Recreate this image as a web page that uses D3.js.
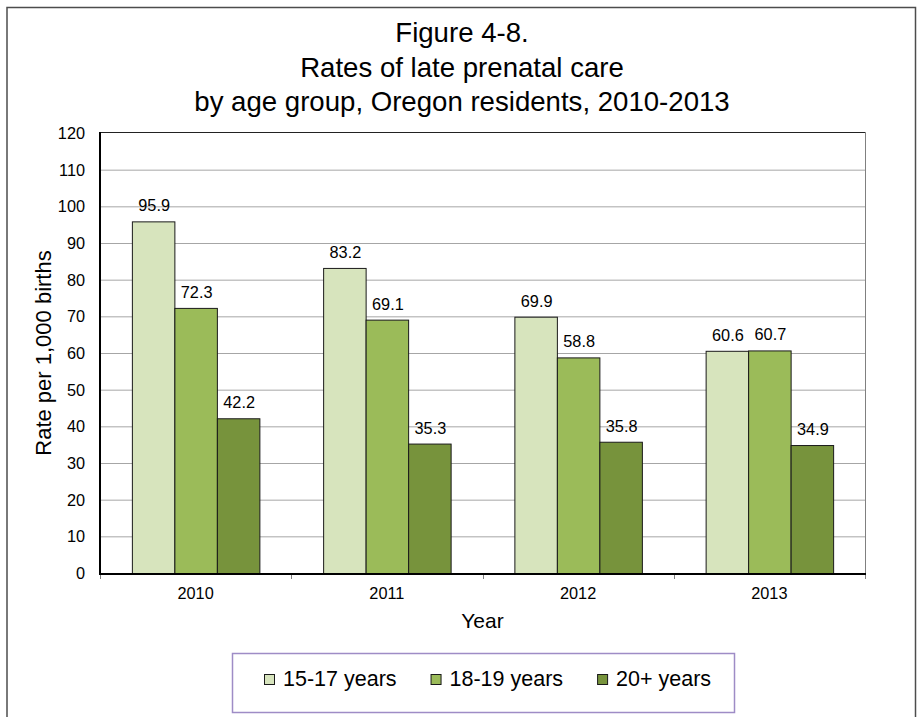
<!DOCTYPE html>
<html lang="en">
<head>
<meta charset="UTF-8">
<title>Figure 4-8</title>
<script src="https://cdn.jsdelivr.net/npm/d3@7"></script>
<style>
    body { margin: 0; background: #fff; }
    text { font-family: "Liberation Sans", Arial, sans-serif; fill: #000; }
    .title { font-size: 27.6px; }
    .tick-label { font-size: 16.3px; }
    .bar-label { font-size: 16.3px; }
    .ax-title { font-size: 21px; }
    .legend-text { font-size: 21.5px; }
</style>
</head>
<body>
<div id="chart"></div>
<script>
    // data
    var years = ["2010", "2011", "2012", "2013"];
    var groups = ["15-17 years", "18-19 years", "20+ years"];
    var rate1517 = [95.9, 83.2, 69.9, 60.6];
    var rate1819 = [72.3, 69.1, 58.8, 60.7];
    var rate20 = [42.2, 35.3, 35.8, 34.9];
    var yTicks = [0, 10, 20, 30, 40, 50, 60, 70, 80, 90, 100, 110, 120];
    var titleLines = ["Figure 4-8.", "Rates of late prenatal care", "by age group, Oregon residents, 2010-2013"];

    var series = [rate1517, rate1819, rate20];
    var colors = ["#d7e4bd", "#9bbb59", "#77933c"];

    var W = 917, H = 717;
    var plot = {left: 100, right: 865, top: 133, bottom: 573};

    var svg = d3.select("#chart").append("svg")
        .attr("width", W)
        .attr("height", H);

    // outer frame
    svg.append("rect")
        .attr("x", 7).attr("y", 7.5)
        .attr("width", 908.5).attr("height", 730)
        .attr("fill", "none")
        .attr("stroke", "#4d4d4d")
        .attr("stroke-width", 1.5);

    // title
    svg.selectAll(".title")
        .data(titleLines)
        .enter()
        .append("text")
        .attr("class", "title")
        .attr("x", 462)
        .attr("y", function(d, i) { return 42 + i * 34.7; })
        .attr("text-anchor", "middle")
        .text(function(d) { return d; });

    var x = d3.scaleBand()
        .domain(years)
        .range([plot.left, plot.right])
        .paddingInner(1 / 3)
        .paddingOuter(1 / 6);

    var xInner = d3.scaleBand()
        .domain(groups)
        .range([0, x.bandwidth()]);

    var y = d3.scaleLinear()
        .domain([0, 120])
        .range([plot.bottom, plot.top]);

    // gridlines
    svg.append("g")
        .selectAll("line")
        .data(yTicks.filter(function(d) { return d > 0 && d < 120; }))
        .enter()
        .append("line")
        .attr("x1", plot.left).attr("x2", plot.right)
        .attr("y1", function(d) { return y(d) + 0.5; })
        .attr("y2", function(d) { return y(d) + 0.5; })
        .attr("stroke", "#a6a6a6")
        .attr("stroke-width", 1);

    // plot border top / right
    svg.append("line")
        .attr("x1", plot.left).attr("x2", plot.right + 0.5)
        .attr("y1", plot.top - 0.5).attr("y2", plot.top - 0.5)
        .attr("stroke", "#222").attr("stroke-width", 1);
    svg.append("line")
        .attr("x1", plot.right + 0.5).attr("x2", plot.right + 0.5)
        .attr("y1", plot.top - 0.5).attr("y2", plot.bottom)
        .attr("stroke", "#808080").attr("stroke-width", 1);

    // bars
    var barGroups = svg.append("g")
        .selectAll("g")
        .data(series)
        .enter()
        .append("g")
        .attr("fill", function(d, i) { return colors[i]; });

    barGroups.selectAll("rect")
        .data(function(d, i) { return d.map(function(v, j) { return {g: groups[i], year: years[j], v: v}; }); })
        .enter()
        .append("rect")
        .attr("x", function(d) { return x(d.year) + xInner(d.g) + 0.5; })
        .attr("y", function(d) { return y(d.v) + 0.5; })
        .attr("width", xInner.bandwidth())
        .attr("height", function(d) { return plot.bottom - y(d.v); })
        .attr("stroke", "#1a1a1a")
        .attr("stroke-width", 1);

    // bar labels
    barGroups.selectAll("text")
        .data(function(d, i) { return d.map(function(v, j) { return {g: groups[i], year: years[j], v: v}; }); })
        .enter()
        .append("text")
        .attr("class", "bar-label")
        .attr("x", function(d) { return x(d.year) + xInner(d.g) + xInner.bandwidth() / 2 + 1; })
        .attr("y", function(d) { return y(d.v) - 10; })
        .attr("text-anchor", "middle")
        .text(function(d) { return d.v.toFixed(1); });

    // y axis
    svg.append("line")
        .attr("x1", plot.left).attr("x2", plot.left)
        .attr("y1", plot.top - 1).attr("y2", plot.bottom + 1)
        .attr("stroke", "#000").attr("stroke-width", 2);

    svg.append("g")
        .selectAll("text")
        .data(yTicks)
        .enter()
        .append("text")
        .attr("class", "tick-label")
        .attr("x", 85)
        .attr("y", function(d) { return y(d) + 6; })
        .attr("text-anchor", "end")
        .text(function(d) { return d; });

    // x axis
    var boundaries = d3.range(years.length + 1).map(function(i) { return plot.left + i * x.step(); });
    svg.append("g")
        .selectAll("line")
        .data(boundaries)
        .enter()
        .append("line")
        .attr("x1", function(d) { return Math.round(d) + 0.5; })
        .attr("x2", function(d) { return Math.round(d) + 0.5; })
        .attr("y1", plot.bottom).attr("y2", plot.bottom + 6)
        .attr("stroke", "#808080").attr("stroke-width", 1);

    svg.append("line")
        .attr("x1", plot.left - 1).attr("x2", plot.right + 1)
        .attr("y1", plot.bottom + 1).attr("y2", plot.bottom + 1)
        .attr("stroke", "#000").attr("stroke-width", 2);

    svg.append("g")
        .selectAll("text")
        .data(years)
        .enter()
        .append("text")
        .attr("class", "tick-label")
        .attr("x", function(d) { return x(d) + x.bandwidth() / 2; })
        .attr("y", 599)
        .attr("text-anchor", "middle")
        .text(function(d) { return d; });

    // axis titles
    svg.append("text")
        .attr("class", "ax-title")
        .attr("x", (plot.left + plot.right) / 2)
        .attr("y", 628)
        .attr("text-anchor", "middle")
        .text("Year");

    svg.append("text")
        .attr("class", "ax-title")
        .attr("transform", "translate(51," + ((plot.top + plot.bottom) / 2) + ") rotate(-90)")
        .attr("text-anchor", "middle")
        .style("font-size", "22px")
        .text("Rate per 1,000 births");

    // legend
    var legend = svg.append("g");
    legend.append("rect")
        .attr("x", 232.5).attr("y", 653.5)
        .attr("width", 502).attr("height", 59)
        .attr("fill", "#fff")
        .attr("stroke", "#9e8cc6")
        .attr("stroke-width", 1.5);

    var lx = 264;
    groups.forEach(function(g, i) {
        legend.append("rect")
            .attr("x", lx + 0.5).attr("y", 674.5)
            .attr("width", 10).attr("height", 10)
            .attr("fill", colors[i])
            .attr("stroke", "#1a1a1a")
            .attr("stroke-width", 1);
        var t = legend.append("text")
            .attr("class", "legend-text")
            .attr("x", lx + 19)
            .attr("y", 686)
            .text(g);
        lx += 19 + t.node().getComputedTextLength() + 34;
    });
</script>
</body>
</html>
